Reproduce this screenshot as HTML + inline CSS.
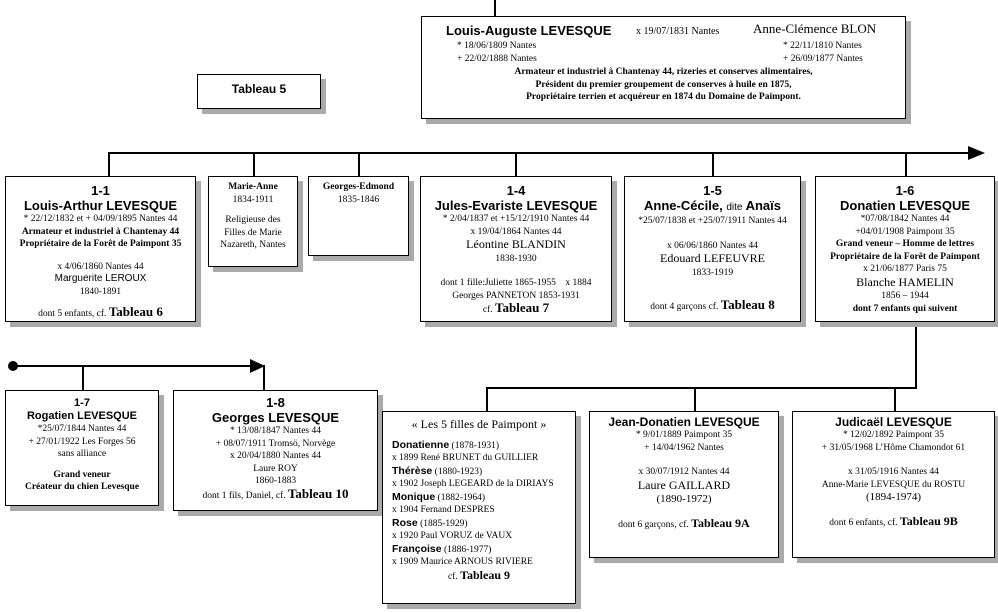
<!DOCTYPE html>
<html><head><meta charset="utf-8"><style>
body{margin:0;width:998px;height:613px;background:#fff;position:relative;overflow:hidden;font-family:"Liberation Serif",serif;color:#000}
.b{position:absolute;border:1px solid #000;background:#fff;box-shadow:5px 5px 0 #aaa;text-align:center;font-size:9.5px;line-height:12.5px;box-sizing:border-box}
.h{font-family:"Liberation Sans",sans-serif;font-weight:bold;font-size:13px;line-height:15px}
.hs{font-family:"Liberation Sans",sans-serif;font-weight:bold;font-size:11px;line-height:13px}
.t{font-weight:bold;font-size:13px}
.l{position:absolute;background:#000}
.sb{font-family:"Liberation Sans",sans-serif;font-weight:bold;font-size:10.5px}
p{margin:0}
</style></head><body>
<!-- lines -->
<div class="l" style="left:494px;top:0;width:2px;height:17px"></div>
<div class="l" style="left:108px;top:152px;width:866px;height:2px"></div>
<svg style="position:absolute;left:968px;top:146px" width="18" height="14"><polygon points="0,0 17,7 0,14" fill="#000"/></svg>
<div class="l" style="left:108px;top:152px;width:2px;height:25px"></div>
<div class="l" style="left:253px;top:152px;width:2px;height:25px"></div>
<div class="l" style="left:358px;top:152px;width:2px;height:25px"></div>
<div class="l" style="left:515px;top:152px;width:2px;height:25px"></div>
<div class="l" style="left:712px;top:152px;width:2px;height:25px"></div>
<div class="l" style="left:905px;top:152px;width:2px;height:25px"></div>
<div class="l" style="left:915px;top:320px;width:2px;height:69px"></div>
<div class="l" style="left:486px;top:387px;width:431px;height:2px"></div>
<div class="l" style="left:486px;top:387px;width:2px;height:25px"></div>
<div class="l" style="left:694px;top:387px;width:2px;height:25px"></div>
<div class="l" style="left:894px;top:387px;width:2px;height:25px"></div>
<div style="position:absolute;left:8px;top:361px;width:10px;height:10px;border-radius:50%;background:#000"></div>
<div class="l" style="left:13px;top:365px;width:240px;height:2px"></div>
<svg style="position:absolute;left:250px;top:359px" width="16" height="14"><polygon points="0,0 15,7 0,14" fill="#000"/></svg>
<div class="l" style="left:82px;top:365px;width:2px;height:26px"></div>
<div class="l" style="left:263px;top:365px;width:2px;height:26px"></div>

<!-- top -->
<div class="b" style="left:421px;top:16px;width:485px;height:103px;text-align:left">
<div style="position:absolute;left:24px;top:6px" class="h">Louis-Auguste LEVESQUE</div>
<div style="position:absolute;left:214px;top:9px;font-size:10px">x 19/07/1831 Nantes</div>
<div style="position:absolute;left:331px;top:6px;font-size:13px">Anne-Clémence BLON</div>
<div style="position:absolute;left:35px;top:23px">* 18/06/1809 Nantes<br>+ 22/02/1888 Nantes</div>
<div style="position:absolute;left:361px;top:23px">* 22/11/1810 Nantes<br>+ 26/09/1877 Nantes</div>
<div style="position:absolute;left:0;right:0;top:49px;text-align:center;font-weight:bold">Armateur et industriel à Chantenay 44, rizeries et conserves alimentaires,<br>Président du premier groupement de conserves à huile en 1875,<br>Propriétaire terrien et acquéreur en 1874 du Domaine de Paimpont.</div>
</div>
<div class="b" style="left:197px;top:74px;width:124px;height:35px;padding-top:8px" ><span class="hs" style="font-size:12px">Tableau 5</span></div>

<!-- row 1 -->
<div class="b" style="left:5px;top:176px;width:191px;height:146px;padding-top:6px">
<div class="h">1-1<br>Louis-Arthur LEVESQUE</div>
<p>* 22/12/1832 et + 04/09/1895 Nantes 44</p>
<p><b>Armateur et industriel à Chantenay 44<br>Propriétaire de la Forêt de Paimpont 35</b></p>
<p style="margin-top:10px">x 4/06/1860 Nantes 44<br><span style="font-family:'Liberation Sans';font-size:10px">Marguerite LEROUX</span><br>1840-1891</p>
<p style="margin-top:8px">dont 5 enfants, cf. <span class="t">Tableau 6</span></p>
</div>
<div class="b" style="left:208px;top:176px;width:90px;height:91px;padding-top:4px">
<p><b>Marie-Anne</b><br>1834-1911</p><p style="margin-top:8px">Religieuse des<br>Filles de Marie<br>Nazareth, Nantes</p></div>
<div class="b" style="left:308px;top:176px;width:101px;height:80px;padding-top:4px"><p><b>Georges-Edmond</b><br>1835-1846</p></div>
<div class="b" style="left:420px;top:176px;width:192px;height:146px;padding-top:6px">
<div class="h">1-4<br>Jules-Evariste LEVESQUE</div>
<p>* 2/04/1837 et +15/12/1910 Nantes 44<br>x 19/04/1864 Nantes 44<br><span style="font-size:12px">Léontine BLANDIN</span><br>1838-1930</p>
<p style="margin-top:12px">dont 1 fille:Juliette 1865-1955 &nbsp;&nbsp; x 1884<br>Georges PANNETON 1853-1931<br>cf. <span class="t">Tableau 7</span></p></div>
<div class="b" style="left:624px;top:176px;width:177px;height:146px;padding-top:6px">
<div class="h">1-5<br>Anne-Cécile, <span style="font-weight:normal;font-size:10px">dite</span> Anaïs</div>
<p>*25/07/1838 et +25/07/1911 Nantes 44</p>
<p style="margin-top:12px">x 06/06/1860 Nantes 44<br><span style="font-size:12px">Edouard LEFEUVRE</span><br>1833-1919</p>
<p style="margin-top:20px">dont 4 garçons cf. <span class="t">Tableau 8</span></p></div>
<div class="b" style="left:815px;top:176px;width:180px;height:146px;padding-top:6px">
<div class="h">1-6<br>Donatien LEVESQUE</div>
<p>*07/08/1842 Nantes 44<br>+04/01/1908 Paimpont 35<br><b>Grand veneur – Homme de lettres<br>Propriétaire de la Forêt de Paimpont</b><br>x 21/06/1877 Paris 75<br><span style="font-size:12px">Blanche HAMELIN</span><br>1856 – 1944<br><b>dont 7 enfants qui suivent</b></p></div>

<!-- bottom left -->
<div class="b" style="left:5px;top:390px;width:154px;height:116px;padding-top:6px">
<div class="hs">1-7<br>Rogatien LEVESQUE</div>
<p>*25/07/1844 Nantes 44<br>+ 27/01/1922 Les Forges 56<br>sans alliance</p>
<p style="margin-top:8px"><b>Grand veneur<br>Créateur du chien Levesque</b></p></div>
<div class="b" style="left:173px;top:390px;width:205px;height:121px;padding-top:4px">
<div class="h">1-8<br>Georges LEVESQUE</div>
<p>* 13/08/1847 Nantes 44<br>+ 08/07/1911 Tromsö, Norvège<br>x 20/04/1880 Nantes 44<br>Laure ROY<br>1860-1883<br>dont 1 fils, Daniel, cf. <span class="t">Tableau 10</span></p></div>

<!-- bottom right -->
<div class="b" style="left:382px;top:411px;width:194px;height:193px;padding-top:6px">
<p style="font-size:12px">« Les 5 filles de Paimpont »</p>
<div style="text-align:left;padding-left:9px;margin-top:8px;line-height:12.5px">
<span class="sb">Donatienne</span> (1878-1931)<br>x 1899 René BRUNET du GUILLIER<br>
<span class="sb">Thérèse</span> (1880-1923)<br>x 1902 Joseph LEGEARD de la DIRIAYS<br>
<span class="sb">Monique</span> (1882-1964)<br>x 1904 Fernand DESPRES<br>
<span class="sb">Rose</span> (1885-1929)<br>x 1920 Paul VORUZ de VAUX<br>
<span class="sb">Françoise</span> (1886-1977)<br>x 1909 Maurice ARNOUS RIVIERE</div>
<p>cf. <span class="t" style="font-size:12px">Tableau 9</span></p></div>
<div class="b" style="left:589px;top:411px;width:190px;height:147px;padding-top:4px">
<div class="hs" style="font-size:12px">Jean-Donatien LEVESQUE</div>
<p>* 9/01/1889 Paimpont 35<br>+ 14/04/1962 Nantes</p>
<p style="margin-top:12px">x 30/07/1912 Nantes 44<br><span style="font-size:12px">Laure GAILLARD</span><br><span style="font-size:11px">(1890-1972)</span></p>
<p style="margin-top:10px">dont 6 garçons, cf. <span class="t" style="font-size:12px">Tableau 9A</span></p></div>
<div class="b" style="left:792px;top:411px;width:203px;height:147px;padding-top:4px">
<div class="hs" style="font-size:12px">Judicaël LEVESQUE</div>
<p>* 12/02/1892 Paimpont 35<br>+ 31/05/1968 L’Hôme Chamondot 61</p>
<p style="margin-top:12px">x 31/05/1916 Nantes 44<br>Anne-Marie LEVESQUE du ROSTU<br><span style="font-size:11px">(1894-1974)</span></p>
<p style="margin-top:10px">dont 6 enfants, cf. <span class="t" style="font-size:12px">Tableau 9B</span></p></div>
</body></html>
